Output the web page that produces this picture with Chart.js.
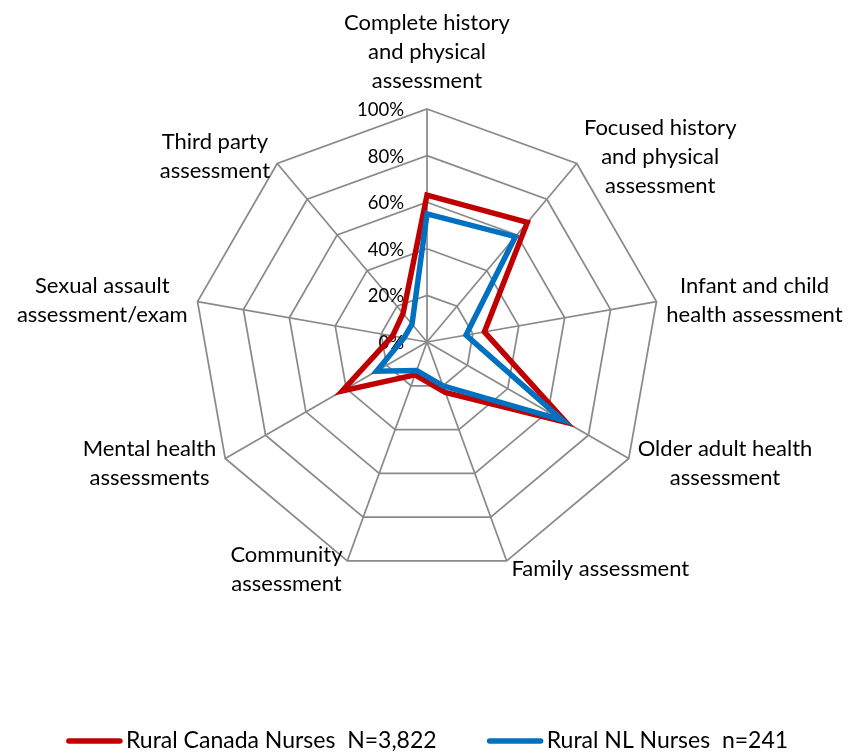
<!DOCTYPE html>
<html>
<head>
<meta charset="utf-8">
<title>Health assessment skills - rural nurses</title>
<script src="https://cdn.jsdelivr.net/npm/chart.js@4.4.0/dist/chart.umd.min.js"></script>
<style>
    html, body { margin: 0; padding: 0; background: #ffffff; }
    #wrap { width: 848px; height: 752px; }
</style>
</head>
<body>
<div id="wrap"><canvas id="radarChart" width="848" height="752"></canvas></div>
<script>
// Categories (clockwise from the top), split into the lines shown on the chart
const categories = [
    ['Complete history', 'and physical', 'assessment'],
    ['Focused history', 'and physical', 'assessment'],
    ['Infant and child', 'health assessment'],
    ['Older adult health', 'assessment'],
    ['Family assessment'],
    ['Community', 'assessment'],
    ['Mental health', 'assessments'],
    ['Sexual assault', 'assessment/exam'],
    ['Third party', 'assessment']
];

// Share of nurses (%)
const canadaNurses = [63, 67, 25, 69, 23, 15, 42, 15, 16];
const nlNurses = [55, 59, 17, 67, 20, 13, 25, 10, 10];

const seriesLabels = ['Rural Canada Nurses  N=3,822', 'Rural NL Nurses  n=241'];
const tickValues = [0, 20, 40, 60, 80, 100];

const FONT = 'Lato, "Open Sans", sans-serif';
const LINE_H = 29;

// Draws the % labels to the left of the top axis, under the data lines
const tickLabelPlugin = {
    id: 'tickLabels',
    beforeDatasetsDraw(chart) {
        const scale = chart.scales.r;
        const ctx = chart.ctx;
        ctx.save();
        ctx.font = '18.5px ' + FONT;
        ctx.fillStyle = '#000';
        ctx.textAlign = 'right';
        ctx.textBaseline = 'middle';
        tickValues.forEach(v => {
            const p = scale.getPointPositionForValue(0, v);
            ctx.fillText(v + '%', scale.xCenter - 23, p.y + 1);
        });
        ctx.restore();
    }
};

// Category labels placed outside the end of each axis
const pointLabelPlugin = {
    id: 'pointLabelsOut',
    afterDraw(chart) {
        const scale = chart.scales.r;
        const ctx = chart.ctx;
        const n = categories.length;
        ctx.save();
        ctx.font = '22px ' + FONT;
        ctx.fillStyle = '#000';
        ctx.textAlign = 'center';
        ctx.textBaseline = 'middle';
        categories.forEach((lines, i) => {
            const end = scale.getPointPosition(i, scale.drawingArea);
            const angle = i * 2 * Math.PI / n;
            const s = Math.sin(angle);
            const c = Math.cos(angle);
            const w = Math.max(...lines.map(l => ctx.measureText(l).width));
            const h = lines.length * LINE_H;
            let cx, cy;
            if (Math.abs(s) < 0.01) {
                cx = end.x;
                cy = end.y - 14 - h / 2;
            } else {
                const gap = 2 + 8 * Math.abs(s);
                cx = end.x + Math.sign(s) * (gap + w / 2);
                cy = end.y - c * 9;
            }
            lines.forEach((l, k) => {
                ctx.fillText(l, cx, cy - h / 2 + LINE_H * (k + 0.5));
            });
        });
        ctx.restore();
    }
};

// Legend along the bottom: thick line sample + text
const legendPlugin = {
    id: 'bottomLegend',
    afterDraw(chart) {
        const ctx = chart.ctx;
        const scale = chart.scales.r;
        const lineW = 57, textGap = 3, itemGap = 50, y = 741;
        ctx.save();
        ctx.font = '23px ' + FONT;
        const items = chart.data.datasets.map(ds => ({
            text: ds.label,
            color: ds.borderColor,
            w: ctx.measureText(ds.label).width
        }));
        const total = items.reduce((a, it) => a + lineW + textGap + it.w, 0) + itemGap * (items.length - 1);
        let x = scale.xCenter - total / 2;
        items.forEach(it => {
            ctx.strokeStyle = it.color;
            ctx.lineWidth = 5.5;
            ctx.lineCap = 'round';
            ctx.beginPath();
            ctx.moveTo(x + 3, y);
            ctx.lineTo(x + lineW - 3, y);
            ctx.stroke();
            ctx.fillStyle = '#000';
            ctx.textAlign = 'left';
            ctx.textBaseline = 'middle';
            ctx.fillText(it.text, x + lineW + textGap, y);
            x += lineW + textGap + it.w + itemGap;
        });
        ctx.restore();
    }
};

const ctx = document.getElementById('radarChart').getContext('2d');

const radarChart = new Chart(ctx, {
    type: 'radar',
    data: {
        labels: categories,
        datasets: [{
            label: seriesLabels[0],
            data: canadaNurses,
            borderColor: '#C00000',
            backgroundColor: 'rgba(0,0,0,0)',
            borderWidth: 5.5,
            borderJoinStyle: 'miter',
            pointRadius: 0,
            fill: false,
            order: 1
        }, {
            label: seriesLabels[1],
            data: nlNurses,
            borderColor: '#0070C0',
            backgroundColor: 'rgba(0,0,0,0)',
            borderWidth: 5.5,
            borderJoinStyle: 'miter',
            pointRadius: 0,
            fill: false,
            order: 0
        }]
    },
    options: {
        responsive: false,
        animation: false,
        plugins: {
            legend: { display: false },
            tooltip: { enabled: false }
        },
        elements: {
            line: { tension: 0 }
        },
        scales: {
            r: {
                min: 0,
                max: 100,
                ticks: {
                    stepSize: 20,
                    display: false
                },
                grid: {
                    color: '#8a8a8a',
                    lineWidth: 1.75
                },
                angleLines: {
                    color: '#8a8a8a',
                    lineWidth: 1.75
                },
                pointLabels: { display: false },
                // fix the plot centre and radius to match the original layout
                afterFit(scale) {
                    scale.xCenter = 427;
                    scale.yCenter = 342;
                    scale.drawingArea = 233;
                }
            }
        }
    },
    plugins: [tickLabelPlugin, pointLabelPlugin, legendPlugin]
});
</script>
</body>
</html>
